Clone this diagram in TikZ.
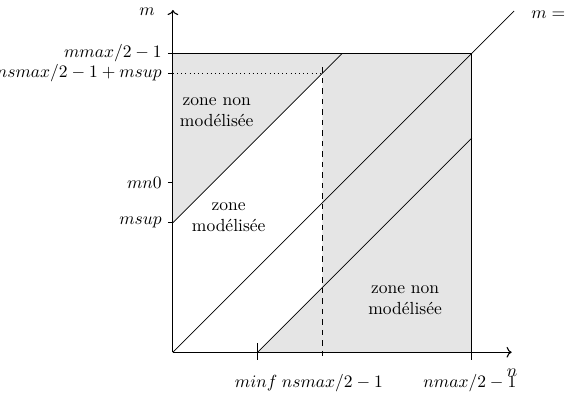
\documentclass[tikz,border=0pt]{standalone}
\usepackage{amsmath,amssymb}
\usetikzlibrary{positioning,arrows.meta}

\begin{document}
\begin{tikzpicture}[
  line width=0.4pt,
  zone/.style={fill=gray!20},
  axe/.style={semithick,->},
  txt/.style={align=center}
]
\useasboundingbox (-3.47,-1.14) rectangle (7.93,7.07);

% zones non modélisées
\fill[zone] (0,2.6) -- (0,6) -- (3.4,6) -- cycle;
\fill[zone]
  (1.7,0) -- (3,1.3) -- (3,6) -- (6,6) -- (6,0) -- cycle;

% cadre
\draw (0,6) -- (6,6) -- (6,-0.16);

% droites m = n + cste
\draw (0,0) -- (6.85,6.85);
\draw (0,2.6) -- (3.4,6);
\draw (1.7,0) -- (6,4.3);

% repères
\draw[dotted] (0,5.6) -- (3,5.6);
\draw[dashed] (3,5.72) -- (3,-0.16);
\draw (1.7,0.18) -- (1.7,-0.16);
\foreach \y in {6,5.6,3.4,2.6}{
  \draw (-0.1,\y) -- (0,\y);
}

% axes
\draw[axe] (0,0) -- (6.8,0);
\draw[axe] (0,0) -- (0,6.87);

\node (lm) at (-0.52,6.83) {$m$};
\node (ln) at (6.81,-0.42) {$n$};
\node[anchor=west] (ldiag) at (7.07,6.77) {$m = n$};

% graduations
\node[anchor=east] (lmmax) at (-0.1,6) {$mmax/2-1$};
\node[anchor=east] (lnsup) at (-0.1,5.6) {$nsmax/2-1+msup$};
\node[anchor=east] (lmn) at (-0.1,3.4) {$mn0$};
\node[anchor=east] (lmsup) at (-0.1,2.6) {$msup$};

\node (lminf) at (1.67,-0.62) {$minf$};
\node (lnsmax) at (3.2,-0.62) {$nsmax/2-1$};
\node (lnmax) at (5.96,-0.62) {$nmax/2-1$};

% zones
\node[txt] (zhaut) at (0.88,4.82) {zone non\\modélisée};
\node[txt] (zmil) at (1.12,2.71) {zone\\modélisée};
\node[txt] (zbas) at (4.66,1.04) {zone non\\modélisée};

\end{tikzpicture}
\end{document}
